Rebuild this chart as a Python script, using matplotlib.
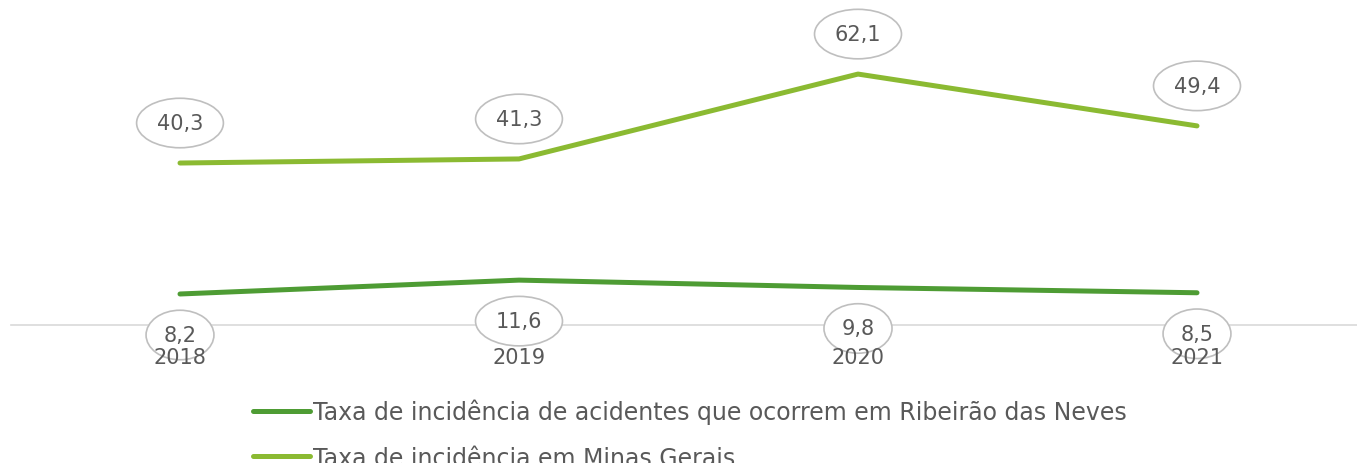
import matplotlib
matplotlib.use("Agg")
import matplotlib.pyplot as plt

years = ["2018", "2019", "2020", "2021"]
ribeirao = [8.2, 11.6, 9.8, 8.5]
minas = [40.3, 41.3, 62.1, 49.4]
label_ribeirao = "Taxa de incidência de acidentes que ocorrem em Ribeirão das Neves"
label_minas = "Taxa de incidência em Minas Gerais"

plt.rcParams['font.family'] = ['DejaVu Sans']
W, H = 1357, 464
fig = plt.figure(figsize=(W / 100, H / 100), dpi=100)
ax = fig.add_axes([10.5 / W, (H - 326) / H, 1356 / W, 326 / H])
ax.set_xlim(-0.5, 3.5)
ax.set_ylim(0.6, 80.5)

c_rib = "#4e9c34"
c_min = "#8bba32"
txt = "#595959"
x = list(range(len(years)))
l1, = ax.plot(x, ribeirao, color=c_rib, lw=3.6, solid_capstyle='round', label=label_ribeirao, zorder=2)
l2, = ax.plot(x, minas, color=c_min, lw=3.6, solid_capstyle='round', label=label_minas, zorder=2)

bbox = dict(boxstyle="ellipse,pad=0.36", fc="white", ec="#bfbfbf", lw=1.2)
for xi, v in zip(x, minas):
    ax.annotate(f"{v:.1f}".replace(".", ","), (xi, v), xytext=(0, 40), textcoords="offset pixels",
                ha="center", va="center", fontsize=15, color=txt, bbox=bbox, zorder=2)
for xi, v in zip(x, ribeirao):
    ax.annotate(f"{v:.1f}".replace(".", ","), (xi, v), xytext=(0, -41), textcoords="offset pixels",
                ha="center", va="center", fontsize=15, color=txt, bbox=bbox, zorder=2)

for s in ["top", "right", "left"]:
    ax.spines[s].set_visible(False)
ax.spines["bottom"].set_color("#d9d9d9")
ax.spines["bottom"].set_linewidth(1.2)
ax.spines["bottom"].set_zorder(1)
ax.set_axisbelow(False)
ax.set_yticks([])
ax.set_xticks(x)
ax.set_xticklabels(years, fontsize=15, color=txt)
ax.tick_params(axis="x", length=0, pad=16)

fig.legend(handles=[l1, l2], loc="upper left", bbox_to_anchor=(253 / W, (H - 400) / H),
           frameon=False, fontsize=17, labelcolor=txt, handlelength=2.4, handletextpad=0.13,
           labelspacing=0.89, borderpad=0, borderaxespad=0)

fig.savefig("out.png", dpi=100)
